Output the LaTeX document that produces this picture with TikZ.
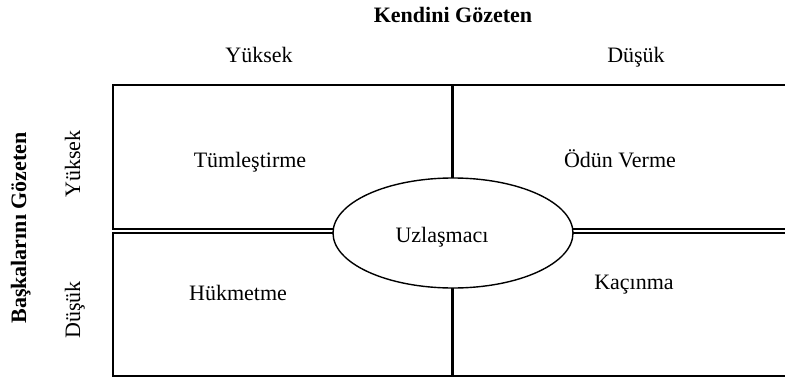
\documentclass[tikz,border=0pt]{standalone}
\usepackage{fontspec}
\setmainfont{Liberation Serif}
\usetikzlibrary{shapes.geometric}
\begin{document}
\begin{tikzpicture}[x=1pt,y=-1pt,
  lbl/.style={font=\fontsize{22}{26}\selectfont, inner sep=0pt, anchor=base},
  hd/.style={font=\fontsize{22}{26}\selectfont\bfseries, inner sep=0pt, anchor=base},
  frame/.style={line width=1.6pt, line cap=rect},
  midline/.style={line width=1.3pt},
  divider/.style={line width=3pt},
  oval/.style={ellipse, draw, line width=1.4pt, fill=white, minimum width=240pt, minimum height=110pt, inner sep=0pt}]
\useasboundingbox (0,0) rectangle (785,380);
% frame
\draw[frame] (785,85) -- (113,85) -- (113,229);
\draw[frame] (113,233) -- (113,376) -- (785,376);
\draw[midline] (113,229) -- (785,229);
\draw[midline] (113,233) -- (785,233);
\draw[divider] (452,84) -- (452,377);
% centre oval
\node[oval] (uz) at (453,233) {};
\node[lbl] (uzt) at (442,242) {Uzlaşmacı};
% quadrant labels
\node[lbl] (tum) at (250,167) {Tümleştirme};
\node[lbl] (odun) at (620,167) {Ödün Verme};
\node[lbl] (huk) at (238,300) {Hükmetme};
\node[lbl] (kac) at (634,289) {Kaçınma};
% headings
\node[hd] (kg) at (453,22) {Kendini Gözeten};
\node[lbl] (ty) at (259,62) {Yüksek};
\node[lbl] (td) at (636,62) {Düşük};
\node[hd, rotate=90] (bg) at (26,228) {Başkalarını Gözeten};
\node[lbl, rotate=90] (ly) at (80,164) {Yüksek};
\node[lbl, rotate=90] (ld) at (80,310) {Düşük};
\end{tikzpicture}
\end{document}
